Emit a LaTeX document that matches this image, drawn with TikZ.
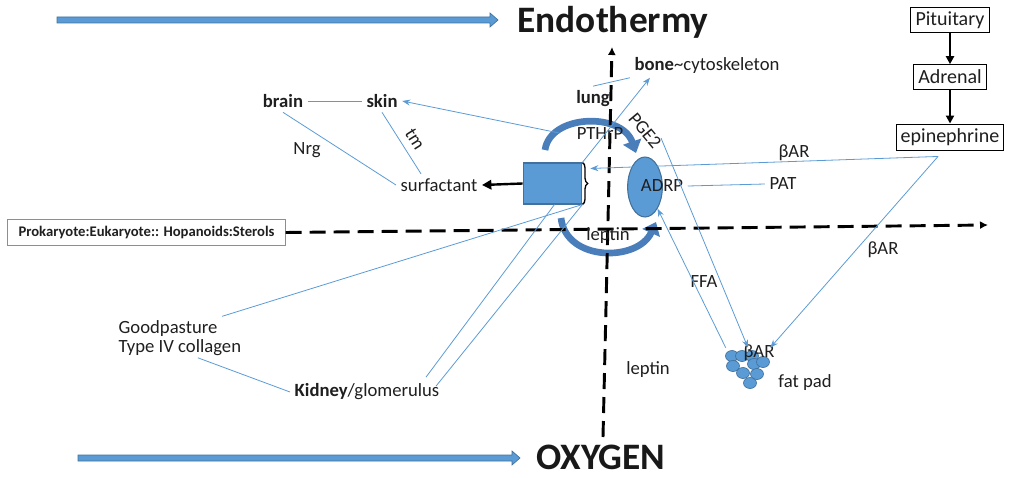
\documentclass[tikz,border=0pt]{standalone}
\usepackage{fontspec}
\setmainfont{Carlito}
\usepackage{tikz}
\usetikzlibrary{calc}
\usetikzlibrary{arrows.meta}
\usetikzlibrary{shapes.geometric}
\usetikzlibrary{decorations.pathreplacing}

\definecolor{fillblue}{HTML}{5B9BD5}
\definecolor{edgeblue}{HTML}{41719C}
\definecolor{curveblue}{HTML}{4A7EBB}
\definecolor{lineblue}{HTML}{5B9BD5}

\begin{document}
\begin{tikzpicture}[x=0.75pt, y=-0.75pt,
    every node/.style={font=\fontsize{14}{16}\selectfont, text=black!88},
    thinlink/.style={lineblue, line width=0.6pt},
    thinarrow/.style={thinlink, -{Stealth[length=6pt, width=4.5pt]}},
    hormone/.style={draw=black, line width=0.7pt, fill=white, font=\fontsize{15}{17}\selectfont, inner xsep=3.5pt, minimum height=18.5pt},
    dashaxis/.style={black, line width=2.2pt, dash pattern=on 12pt off 6pt, -{Latex[length=6pt, width=6pt]}},
    curvedarrow/.style={curveblue, line width=5pt, -{Triangle[length=9pt, width=14pt]}},
    bigtitle/.style={font=\fontsize{28}{32}\selectfont\bfseries, text=black!90}
]

\useasboundingbox (0,0) rectangle (1024,478);

% ===================== TITLES AND BLOCK ARROWS =====================
\fill[fillblue, draw=edgeblue, line width=0.5pt] (57,17)--(490,17)--(490,13)--(498,20)--(490,27)--(490,23)--(57,23)--cycle;
\node[bigtitle] (endo) at (613,22) {Endothermy};

\fill[fillblue, draw=edgeblue, line width=0.5pt] (78,455)--(512,455)--(512,451)--(520,458)--(512,465)--(512,461)--(78,461)--cycle;
\node[bigtitle] (oxy) at (601,457) {OXYGEN};

% ===================== HORMONE CHAIN =====================
\node[hormone] (pit) at (950,20) {Pituitary};
\node[hormone] (adr) at (950,77) {Adrenal};
\node[hormone] (epi) at (950,137) {epinephrine};
\draw[black, line width=1.5pt, -{Triangle[length=6pt, width=6pt]}] (pit) -- (adr);
\draw[black, line width=1.5pt, -{Triangle[length=6pt, width=6pt]}] (adr) -- (epi);

% ===================== CELL, ADRP AND LOOPS =====================
\node[draw=edgeblue, fill=fillblue, line width=0.8pt, minimum width=44pt, minimum height=30.75pt, inner sep=0] (cell) at (552.5,183.5) {};
\draw[black, line width=1pt, decorate, decoration={brace, amplitude=4pt}] (cell.north east) -- (cell.south east);

\node[ellipse, draw=edgeblue, fill=fillblue, line width=0.8pt, minimum width=26pt, minimum height=45pt, inner sep=0] (adrp) at (645,187) {};
\node (adrptxt) at (662,186) {ADRP};

\draw[curvedarrow] (545,150) .. controls (550,114) and (622,112) .. (636,153);
\draw[curvedarrow] (561,218) .. controls (566,262) and (638,262) .. (656,222);

% Fat pad
\node[minimum width=33pt, minimum height=30pt, inner sep=0] (fat) at (748,368) {};
\foreach \cx/\cy in {732/356, 742/356, 752/356, 733/366, 754/364, 763/362, 743/373, 757/374, 750/383}
    \draw[fill=fillblue, draw=edgeblue, line width=0.5pt] (\cx,\cy) ellipse (6.5 and 5.5);

% ===================== DASHED AXES =====================
\node[draw=lineblue, line width=0.7pt, font=\fontsize{11}{13}\selectfont\bfseries, minimum width=208pt, minimum height=19pt] (prok) at (146.5,232.5) {Prokaryote:Eukaryote:: Hopanoids:Sterols};
\coordinate (hend) at (988,225);
\draw[dashaxis] (prok.east) -- (hend);

\coordinate (vbot) at (603,437);
\coordinate (vtop) at (612,47);
\draw[dashaxis] (vbot) -- (vtop);

% ===================== LABELS =====================
\node[font=\fontsize{14}{16}\selectfont\bfseries] (lung) at (593,99) {lung};
\node (bone) at (707,65) {\textbf{bone}\textasciitilde cytoskeleton};
\node[font=\fontsize{14}{16}\selectfont\bfseries] (brain) at (283,101) {brain};
\node[font=\fontsize{14}{16}\selectfont\bfseries] (skin) at (382,101) {skin};
\node (nrg) at (307,150) {Nrg};
\node[rotate=-58, inner sep=0.5pt] (tm) at (415,139) {tm};
\node (surf) at (439,185) {surfactant};
\node[inner sep=1pt] (pthrp) at (600,134) {PTHrP};
\node[rotate=-50, inner sep=0.5pt] (pge) at (645,131) {PGE2};
\node (bar1) at (794,153) {βAR};
\node (pat) at (783,184) {PAT};
\node (lep1) at (608,236) {leptin};
\node (lep2) at (648,370) {leptin};
\node (ffa) at (704,282) {FFA};
\node (bar2) at (883,250) {βAR};
\node (bar3) at (759,353) {βAR};
\node (fatpad) at (805,383) {fat pad};
\node[anchor=west] (gp) at (114,329) {Goodpasture};
\node[anchor=west] (col) at (114,348) {Type IV collagen};
\node (kid) at (367,392) {\textbf{Kidney}/glomerulus};

% ===================== CONNECTORS =====================
\draw[black, line width=1.8pt, -{Triangle[length=7pt, width=7pt]}] (cell.west) -- (surf.east);

\draw[thinlink] (brain) -- (skin);
\draw[thinlink] (brain.south) -- (surf.west);
\draw[thinlink] (skin.south) -- ($(surf.north)+(-18,0)$);
\draw[thinarrow] ($(pthrp.west)+(-16,-1)$) -- (skin.east);

\draw[thinlink] (lung.north) -- (bone.south west);
\draw[thinarrow] (cell.north east) -- ($(bone.south west)+(20,0)$);

\draw[thinarrow] ($(epi.south)+(-12,6)$) -- ($(cell.north east)+(8,6)$);
\draw[thinarrow] ($(epi.south)+(-12,6)$) -- (fat.north east);
\draw[thinlink] (pat.west) -- (adrptxt.east);
\draw[thinarrow] ($(pge.center)+(16,7)$) -- (fat.north);
\draw[thinarrow] (fat.north west) -- (adrp.-60);

\draw[thinlink] (gp.north east) -- (cell.south east);
\draw[thinlink] ($(col.south)+(18,-3)$) -- (kid.west);
\draw[thinlink] ($(kid.north east)+(-18,-2)$) -- ($(cell.south)+(2,0)$);
\draw[thinlink] ($(kid.north east)+(-8,7)$) -- (cell.south east);

\end{tikzpicture}
\end{document}
